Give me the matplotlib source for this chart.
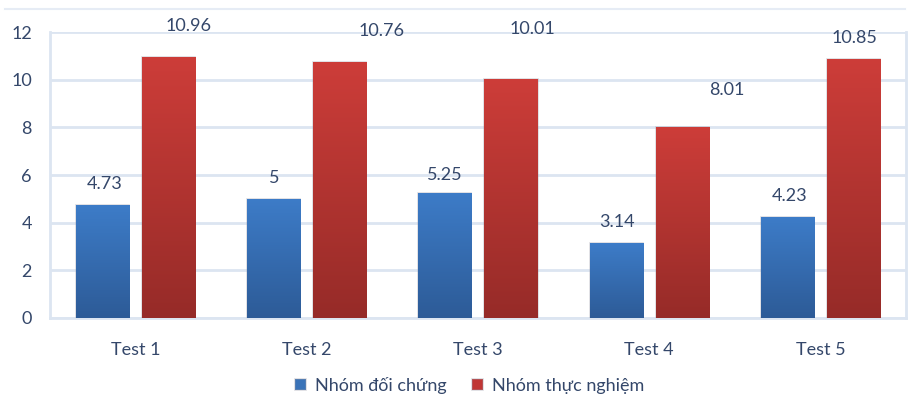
import numpy as np
import matplotlib
matplotlib.use('Agg')
import matplotlib.pyplot as plt
from matplotlib.colors import LinearSegmentedColormap

# test scores of both groups
tests = ['Test 1', 'Test 2', 'Test 3', 'Test 4', 'Test 5']
control = [4.73, 5, 5.25, 3.14, 4.23]
experiment = [10.96, 10.76, 10.01, 8.01, 10.85]
series_names = ['Nhóm đối chứng', 'Nhóm thực nghiệm']
yticks = [0, 2, 4, 6, 8, 10, 12]

# label offsets in pixels (dx, dy from bar top)
control_off = [(2, 21), (1, 21), (0, 18), (1, 21), (2, 21)]
experiment_off = [(20, 31), (42, 31), (21, 50), (45, 37), (1, 21)]

plt.rcParams['font.family'] = ['Lato', 'DejaVu Sans']
TXT = '#34476A'
GRID = '#DCE5F1'
FS = 13

fig = plt.figure(figsize=(9.10, 3.96), dpi=100)
ax = fig.add_axes([0.0548, 0.197, 0.9408, 0.722])

x = np.arange(len(tests))
w = 0.31
shift = 0.193

blue = LinearSegmentedColormap.from_list('b', ['#2D5B97', '#3D7CC8'])
red = LinearSegmentedColormap.from_list('r', ['#962B28', '#CD3D39'])

b1 = ax.bar(x - shift, control, w, color='#3A73B8', zorder=3, label=series_names[0])
b2 = ax.bar(x + shift, experiment, w, color='#C03634', zorder=3, label=series_names[1])

# vertical gradient fill on every bar
grad = np.linspace(0, 1, 256).reshape(-1, 1)
for bars, cmap in ((b1, blue), (b2, red)):
    for r in bars:
        x0, wd, h = r.get_x(), r.get_width(), r.get_height()
        im = ax.imshow(grad, cmap=cmap, origin='lower', aspect='auto',
                       extent=[x0, x0 + wd, 0, h], zorder=4)
        im.set_clip_path(r)
        r.set_edgecolor((0.6, 0.6, 0.65, 0.35))
        r.set_linewidth(1.2)

for bars, offs in ((b1, control_off), (b2, experiment_off)):
    for r, (dx, dy) in zip(bars, offs):
        v = r.get_height()
        ax.annotate(f'{v:g}', (r.get_x() + r.get_width() / 2, v),
                    xytext=(dx, dy), textcoords='offset pixels',
                    ha='center', va='center', fontsize=FS, color=TXT)

ax.set_xlim(-0.5, len(tests) - 0.5)
ax.set_ylim(0, 12)
ax.set_yticks(yticks)
ax.set_xticks(x)
ax.set_xticklabels(tests)
ax.tick_params(length=0, labelsize=FS, colors=TXT)
ax.tick_params(axis='y', pad=13)
ax.tick_params(axis='x', pad=17)
ax.grid(axis='y', color=GRID, linewidth=2, zorder=0)
for s in ax.spines.values():
    s.set_color(GRID)
    s.set_linewidth(2)
ax.spines['top'].set_visible(False)

# outer chart border line near the top
fig.add_artist(plt.Line2D([0.005, 0.995], [0.977, 0.977], color='#E6ECF5', linewidth=1.5))

leg = fig.legend(handles=[b1, b2], labels=series_names, loc='center',
                 bbox_to_anchor=(0.516, 0.027), ncol=2, frameon=False,
                 fontsize=FS, handlelength=0.6, handleheight=0.6,
                 handletextpad=0.5, columnspacing=1.4, labelcolor=TXT)

fig.savefig('out.png', dpi=100)
